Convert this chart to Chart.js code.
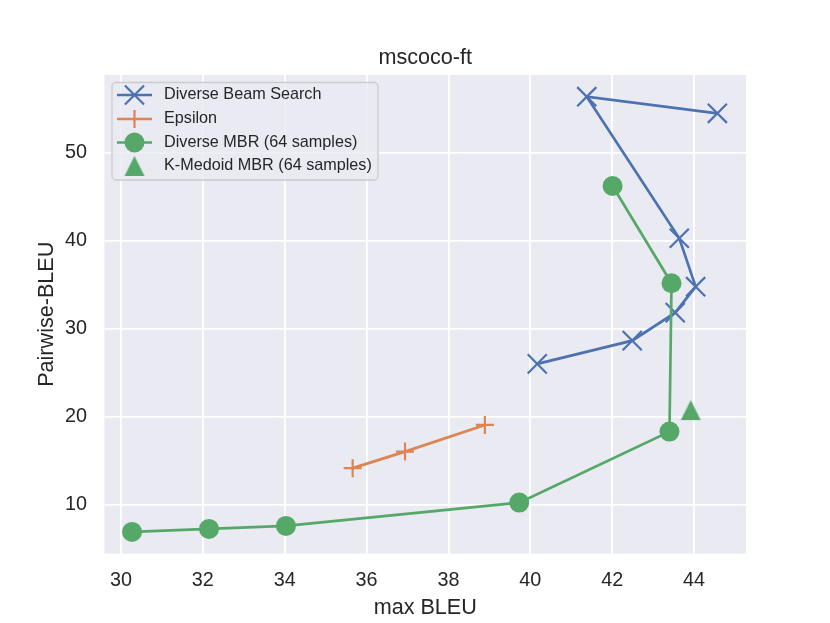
<!DOCTYPE html>
<html>
<head>
<meta charset="utf-8">
<script src="https://cdn.jsdelivr.net/npm/chart.js@4.4.1/dist/chart.umd.min.js"></script>
<style>
  html, body { margin: 0; padding: 0; background: #ffffff; }
  #c { display: block; }
</style>
</head>
<body>
<canvas id="c" width="830" height="623"></canvas>
<script>
// ---- data ----
const seriesNames = ["Diverse Beam Search", "Epsilon", "Diverse MBR (64 samples)", "K-Medoid MBR (64 samples)"];
const dbsX = [40.17, 42.49, 43.54, 44.04, 43.64, 41.38, 44.57];
const dbsY = [26.02, 28.66, 31.84, 34.79, 40.28, 56.36, 54.47];
const epsX = [35.66, 36.94, 38.89];
const epsY = [14.18, 16.06, 19.09];
const mbrX = [30.27, 32.15, 34.03, 39.73, 43.40, 43.45, 42.01];
const mbrY = [6.94, 7.28, 7.62, 10.27, 18.33, 35.18, 46.22];
const kmX = [43.92];
const kmY = [20.77];
const xTicks = [30, 32, 34, 36, 38, 40, 42, 44];
const yTicks = [10, 20, 30, 40, 50];

const BLUE = '#4C72B0', ORANGE = '#DD8452', GREEN = '#55A868';
const TEXT = '#262626', FACE = '#EAEAF2';
const FONT = "'Liberation Sans', Arial, 'DejaVu Sans', sans-serif";

function pts(xs, ys) { return xs.map((x, i) => ({ x: x, y: ys[i] })); }

// matplotlib-style '^' marker (box-centred)
function makeTriangle(color, size) {
  const c = document.createElement('canvas');
  const s = size + 2;
  c.width = s; c.height = s;
  const g = c.getContext('2d');
  g.fillStyle = color;
  g.beginPath();
  g.moveTo(s / 2, 1);
  g.lineTo(1, s - 1);
  g.lineTo(s - 1, s - 1);
  g.closePath();
  g.fill();
  return c;
}
const triImg = makeTriangle(GREEN, 20);

const bgPlugin = {
  id: 'plotBg',
  afterLayout(chart) {
    // centre the title over the plot area, as matplotlib does
    const tb = chart.titleBlock;
    if (tb) { tb.left = chart.chartArea.left; tb.right = chart.chartArea.right; }
  },
  beforeDraw(chart) {
    const { ctx, chartArea: a } = chart;
    ctx.save();
    ctx.fillStyle = '#ffffff';
    ctx.fillRect(0, 0, chart.width, chart.height);
    ctx.fillStyle = FACE;
    ctx.fillRect(a.left, a.top, a.right - a.left, a.bottom - a.top);
    ctx.restore();
  }
};

function drawMarker(ctx, ds, x, y) {
  const style = ds.pointStyle;
  const r = ds.pointRadius;
  ctx.save();
  ctx.strokeStyle = ds.pointBorderColor;
  ctx.fillStyle = ds.pointBackgroundColor;
  ctx.lineWidth = ds.pointBorderWidth;
  if (style === 'crossRot') {
    const o = r * Math.SQRT1_2;
    ctx.beginPath();
    ctx.moveTo(x - o, y - o); ctx.lineTo(x + o, y + o);
    ctx.moveTo(x + o, y - o); ctx.lineTo(x - o, y + o);
    ctx.stroke();
  } else if (style === 'cross') {
    ctx.beginPath();
    ctx.moveTo(x - r, y); ctx.lineTo(x + r, y);
    ctx.moveTo(x, y - r); ctx.lineTo(x, y + r);
    ctx.stroke();
  } else if (style === 'circle') {
    ctx.beginPath();
    ctx.arc(x, y, r, 0, Math.PI * 2);
    ctx.fill();
  } else if (style instanceof HTMLCanvasElement) {
    ctx.drawImage(style, x - style.width / 2, y - style.height / 2);
  }
  ctx.restore();
}

const legendPlugin = {
  id: 'innerLegend',
  afterDatasetsDraw(chart) {
    const ctx = chart.ctx;
    const box = { x: 112, y: 82.5, w: 266, h: 97.5, r: 4 };
    ctx.save();
    ctx.beginPath();
    ctx.roundRect(box.x, box.y, box.w, box.h, box.r);
    ctx.fillStyle = 'rgba(234,234,242,0.8)';
    ctx.fill();
    ctx.strokeStyle = '#CCCCCC';
    ctx.lineWidth = 1.3;
    ctx.stroke();
    const rows = [95, 119, 142.5, 166];
    chart.data.datasets.forEach((ds, i) => {
      const y = rows[i];
      if (ds.showLine) {
        ctx.beginPath();
        ctx.moveTo(117, y); ctx.lineTo(152, y);
        ctx.strokeStyle = ds.borderColor;
        ctx.lineWidth = ds.borderWidth;
        ctx.stroke();
      }
      drawMarker(ctx, ds, 134.5, y);
      ctx.fillStyle = TEXT;
      ctx.font = "16.2px " + FONT;
      ctx.textBaseline = 'middle';
      ctx.textAlign = 'left';
      ctx.fillText(ds.label, 164, y);
    });
    ctx.restore();
  }
};

const lineDs = (label, data, color, style, r, bw, order) => ({
  label: label,
  data: data,
  showLine: true,
  borderColor: color,
  backgroundColor: color,
  borderWidth: 2.7,
  pointStyle: style,
  pointRadius: r,
  pointHoverRadius: r,
  pointBorderColor: color,
  pointBackgroundColor: color,
  pointBorderWidth: bw,
  tension: 0,
  fill: false,
  order: order
});

const chart = new Chart(document.getElementById('c'), {
  type: 'scatter',
  data: {
    datasets: [
      lineDs(seriesNames[0], pts(dbsX, dbsY), BLUE, 'crossRot', 13.5, 2.2, 4),
      lineDs(seriesNames[1], pts(epsX, epsY), ORANGE, 'cross', 9, 2.2, 3),
      lineDs(seriesNames[2], pts(mbrX, mbrY), GREEN, 'circle', 10, 0, 2),
      {
        label: seriesNames[3],
        data: pts(kmX, kmY),
        showLine: false,
        borderColor: GREEN,
        backgroundColor: GREEN,
        pointStyle: triImg,
        pointRadius: 10,
        pointBorderColor: GREEN,
        pointBackgroundColor: GREEN,
        pointBorderWidth: 0,
        order: 1
      }
    ]
  },
  options: {
    responsive: false,
    animation: false,
    events: [],
    devicePixelRatio: 1,
    layout: { padding: { left: 0, right: 84, top: 0, bottom: 0 } },
    plugins: {
      legend: { display: false },
      tooltip: { enabled: false },
      title: {
        display: true,
        text: 'mscoco-ft',
        color: TEXT,
        font: { family: FONT, size: 21.6, weight: 'normal', lineHeight: 1.2 },
        padding: { top: 44.8, bottom: 4.3 }
      }
    },
    scales: {
      x: {
        type: 'linear',
        min: 29.597,
        max: 45.27,
        afterBuildTicks: (s) => { s.ticks = xTicks.map(v => ({ value: v })); },
        afterFit: (s) => { s.height = 69.5; },
        grid: { color: '#ffffff', lineWidth: 1.8, drawTicks: false },
        border: { display: false },
        ticks: {
          color: TEXT,
          padding: 15,
          maxRotation: 0,
          font: { family: FONT, size: 19.8 },
          callback: (v) => String(v)
        },
        title: {
          display: true,
          text: 'max BLEU',
          color: TEXT,
          font: { family: FONT, size: 21.6, lineHeight: 1.2 },
          padding: { top: 0, bottom: 2 }
        }
      },
      y: {
        type: 'linear',
        min: 4.49,
        max: 58.82,
        afterBuildTicks: (s) => { s.ticks = yTicks.map(v => ({ value: v })); },
        afterFit: (s) => { s.width = 104.5; },
        grid: { color: '#ffffff', lineWidth: 1.8, drawTicks: false },
        border: { display: false },
        ticks: {
          color: TEXT,
          padding: 17.5,
          font: { family: FONT, size: 19.8 },
          callback: (v) => String(v)
        },
        title: {
          display: true,
          text: 'Pairwise-BLEU',
          color: TEXT,
          font: { family: FONT, size: 21.6, lineHeight: 1.2 },
          padding: { top: 34, bottom: 0 }
        }
      }
    }
  },
  plugins: [bgPlugin, legendPlugin]
});
</script>
</body>
</html>
